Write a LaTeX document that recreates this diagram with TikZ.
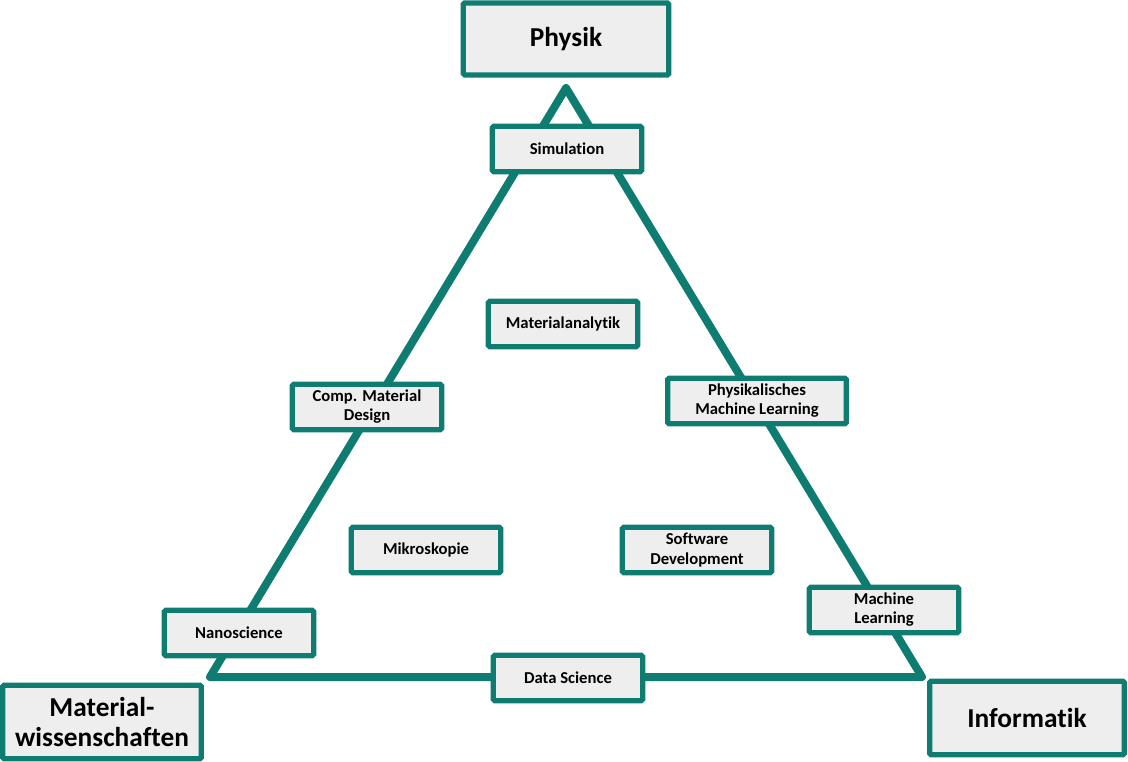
\documentclass[tikz,border=0pt]{standalone}
\usepackage{fontspec}
\setmainfont[RawFeature={-liga;-clig;-dlig}]{Carlito}
\definecolor{teal}{HTML}{0E7C70}
\definecolor{boxfill}{HTML}{EEEEEE}
\tikzset{
  topic/.style={draw=teal,fill=boxfill,line width=3.9pt,rounded corners=1pt,
    minimum width=112pt,minimum height=34pt,align=center,inner sep=1pt,
    font=\fontsize{12.5}{14.3}\selectfont\bfseries},
  field/.style={topic,minimum width=154pt,minimum height=54pt,
    font=\fontsize{20.5}{22.5}\selectfont\bfseries},
  edge/.style={draw=teal,line width=6pt,line join=round}
}
\begin{document}
\begin{tikzpicture}
        [x=0.75pt,y=-0.75pt]
        \useasboundingbox (0,0) rectangle (1128,762);

        % corners of the triangle
        \coordinate (apex) at (566,88);
        \coordinate (left) at (210,677);
        \coordinate (right) at (922,677);
        \draw[edge] (apex) -- (left) -- (right) -- cycle;

        % fields
        \node[field] (phys) at (566,39) {Physik};
        \node[field,minimum width=149pt,minimum height=55pt] (mat) at (102,722) {Material-\\wissenschaften};
        \node[field,minimum width=146pt,minimum height=55pt] (inf) at (1027,718) {Informatik};

        % topics on the edges
        \node[topic] (sim) at (567,149) {Simulation};
        \node[topic] (cmd) at (367,407) {Comp. Material\\Design};
        \node[topic,minimum width=134pt] (pml) at (757,401) {Physikalisches\\Machine Learning};
        \node[topic] (nano) at (239,633) {Nanoscience};
        \node[topic] (ml) at (884,610) {Machine\\Learning};
        \node[topic] (ds) at (568,678) {Data Science};

        % topics inside
        \node[topic] (ana) at (563,324) {Materialanalytik};
        \node[topic] (mik) at (426,550) {Mikroskopie};
        \node[topic] (soft) at (697,550) {Software\\Development};
      \end{tikzpicture}
\end{document}
